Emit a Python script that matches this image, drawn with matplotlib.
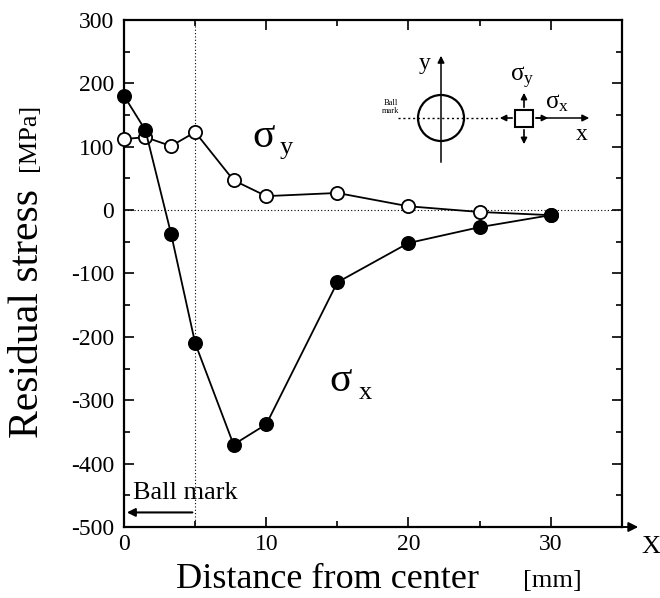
import numpy as np
import matplotlib.pyplot as plt
from matplotlib.patches import Circle, Rectangle
from matplotlib.ticker import MultipleLocator, FormatStrFormatter

plt.rcParams['font.family'] = ['Liberation Serif', 'DejaVu Serif']
plt.rcParams['mathtext.fontset'] = 'custom'
plt.rcParams['mathtext.rm'] = 'Liberation Serif'
plt.rcParams['mathtext.it'] = 'Liberation Serif'

# distance from center [mm]
dist = [0, 1.5, 3.3, 5, 7.7, 10, 15, 20, 25, 30]
sigma_x = [180, 126, -37, -210, -370, -338, -114, -52, -27, -8]
sigma_y = [112, 115, 101, 123, 47, 22, 27, 6, -3, -8]

fig = plt.figure(figsize=(6.6, 5.98), dpi=100)
ax = fig.add_axes([0.188, 0.1187, 0.754, 0.848])

ax.axhline(0, color='k', lw=0.8, ls=(0, (1, 2)), zorder=1)
ax.axvline(5, color='k', lw=0.8, ls=(0, (1, 2)), zorder=1)

ax.plot(dist, sigma_y, '-o', color='k', lw=1.3, ms=9.5, mfc='white', mew=1.3, zorder=3, clip_on=False)
ax.plot(dist, sigma_x, '-o', color='k', lw=1.3, ms=9.5, mfc='black', mew=1.3, zorder=4, clip_on=False)

ax.set_xlim(0, 35)
ax.set_ylim(-500, 300)
ax.xaxis.set_major_locator(MultipleLocator(10))
ax.xaxis.set_minor_locator(MultipleLocator(5))
ax.yaxis.set_major_locator(MultipleLocator(100))
ax.yaxis.set_minor_locator(MultipleLocator(50))
ax.yaxis.set_major_formatter(FormatStrFormatter('%d'))
ax.xaxis.set_major_formatter(FormatStrFormatter('%d'))
ax.tick_params(which='both', direction='in', top=True, right=True, width=1.2, labelsize=17)
ax.tick_params(which='major', length=7)
ax.tick_params(which='minor', length=4)
ax.tick_params(axis='y', pad=7)
ax.tick_params(axis='x', pad=5)
ax.set_xticks([0, 10, 20, 30])
for s in ax.spines.values():
    s.set_linewidth(1.6)

ax.text(9.8, 115, '\u03c3', fontsize=30, ha='center', va='center')
ax.text(11.4, 98, 'y', fontsize=19, ha='center', va='center')
ax.text(15.2, -270, '\u03c3', fontsize=30, ha='center', va='center')
ax.text(17.0, -289, 'x', fontsize=19, ha='center', va='center')

# ball mark arrow
ax.annotate('', xy=(0, -477), xytext=(5, -477),
            arrowprops=dict(arrowstyle='-|>', color='k', lw=1.5, mutation_scale=12))
ax.text(0.6, -447, 'Ball mark', fontsize=19, ha='left', va='center')

# overlay in pixel coordinates for labels and the sketch
ov = fig.add_axes([0, 0, 1, 1], zorder=5)
ov.set_xlim(0, 660)
ov.set_ylim(598, 0)
ov.axis('off')
ov.patch.set_alpha(0)

ov.text(28, 313, 'Residual stress', fontsize=30, rotation=90, ha='center', va='center')
ov.text(29, 137, '[MPa]', fontsize=19, rotation=90, ha='center', va='center')
ov.text(328, 588, 'Distance from center', fontsize=26, ha='center', va='baseline')
ov.text(552, 587, '[mm]', fontsize=19, ha='center', va='baseline')

# x arrow past the frame
ov.annotate('', xy=(641, 527), xytext=(618, 527),
            arrowprops=dict(arrowstyle='-|>', color='k', lw=1.4, mutation_scale=14))
ov.text(651, 547, 'X', fontsize=19, ha='center', va='center')

# sketch: ball mark and stress element
ov.add_patch(Circle((441, 118), 23, fill=False, lw=1.6, color='k'))
ov.annotate('', xy=(441, 53), xytext=(441, 165),
            arrowprops=dict(arrowstyle='-|>', color='k', lw=1.1, mutation_scale=10))
ov.text(425, 64, 'y', fontsize=17, ha='center', va='center')
ov.plot([398, 500], [118, 118], color='k', lw=1.0, ls=(0, (1.5, 2)))
ov.annotate('', xy=(592, 118), xytext=(534, 118),
            arrowprops=dict(arrowstyle='-|>', color='k', lw=1.1, mutation_scale=10))
ov.text(582, 134, 'x', fontsize=17, ha='center', va='center')
ov.add_patch(Rectangle((515, 110), 18, 17, fill=False, lw=1.5, color='k'))
ov.annotate('', xy=(524, 90), xytext=(524, 110),
            arrowprops=dict(arrowstyle='-|>', color='k', lw=1.2, mutation_scale=9))
ov.annotate('', xy=(524, 147), xytext=(524, 127),
            arrowprops=dict(arrowstyle='-|>', color='k', lw=1.2, mutation_scale=9))
ov.annotate('', xy=(497, 118), xytext=(515, 118),
            arrowprops=dict(arrowstyle='-|>', color='k', lw=1.2, mutation_scale=9))
ov.annotate('', xy=(551, 118), xytext=(533, 118),
            arrowprops=dict(arrowstyle='-|>', color='k', lw=1.2, mutation_scale=9))
ov.text(522, 78, r'$\mathrm{\sigma_y}$', fontsize=18, ha='center', va='center')
ov.text(557, 103, r'$\mathrm{\sigma_x}$', fontsize=18, ha='center', va='center')
ov.text(391, 107, 'Ball\nmark', fontsize=6, ha='center', va='center', linespacing=1.0)

fig.savefig('out.png', dpi=100)
